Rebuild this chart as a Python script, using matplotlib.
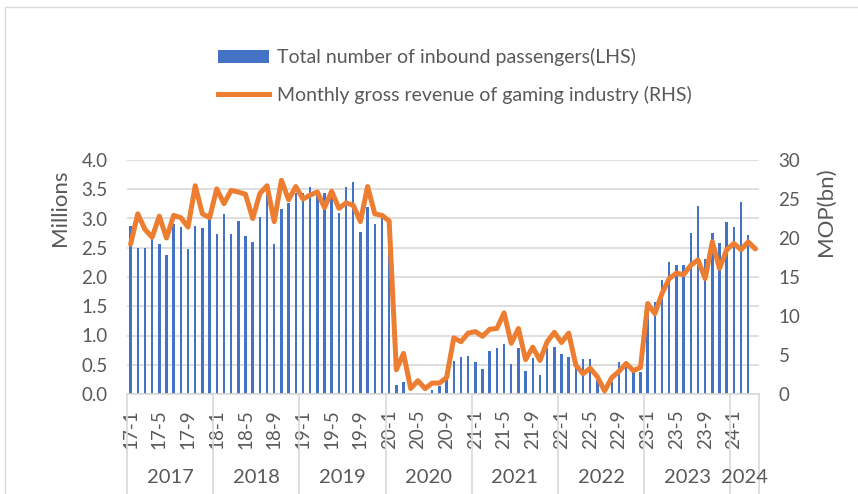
import numpy as np
import matplotlib
matplotlib.use('Agg')
import matplotlib.pyplot as plt
import matplotlib.transforms as mtransforms
from matplotlib.patches import Rectangle, Patch
from matplotlib.lines import Line2D

# monthly data, 2017-1 .. 2024-4
years = [2017, 2018, 2019, 2020, 2021, 2022, 2023, 2024]
months_per_year = [12, 12, 12, 12, 12, 12, 12, 4]

# inbound passengers, millions (LHS); no bar for 2024-4
passengers = [
    2.87, 2.49, 2.50, 2.66, 2.56, 2.37, 2.91, 2.86, 2.48, 2.88, 2.83, 2.99,
    2.74, 3.07, 2.73, 2.96, 2.70, 2.60, 3.03, 3.43, 2.56, 3.16, 3.27, 3.44,
    3.43, 3.54, 3.46, 3.43, 3.45, 3.10, 3.53, 3.62, 2.77, 3.20, 2.91, 3.00,
    2.97, 0.15, 0.21, 0.01, 0.02, 0.02, 0.06, 0.14, 0.25, 0.57, 0.63, 0.65,
    0.55, 0.42, 0.74, 0.78, 0.86, 0.52, 0.78, 0.40, 0.62, 0.32, 0.78, 0.81,
    0.68, 0.64, 0.44, 0.59, 0.59, 0.24, 0.01, 0.20, 0.55, 0.56, 0.42, 0.38,
    1.55, 1.58, 1.95, 2.26, 2.21, 2.21, 2.76, 3.21, 2.30, 2.75, 2.58, 2.94,
    2.86, 3.29, 2.72, np.nan,
]

# gross gaming revenue, MOP bn (RHS)
revenue = [
    19.2, 23.1, 21.1, 20.1, 22.8, 20.0, 22.9, 22.6, 21.4, 26.7, 23.1, 22.6,
    26.3, 24.4, 26.1, 25.9, 25.6, 22.5, 25.7, 26.7, 22.1, 27.4, 24.9, 26.6,
    25.0, 25.5, 25.9, 23.9, 26.0, 23.8, 24.5, 24.2, 22.1, 26.6, 23.1, 22.9,
    22.2, 3.1, 5.2, 0.7, 1.7, 0.7, 1.4, 1.4, 2.1, 7.2, 6.7, 7.8,
    8.0, 7.4, 8.3, 8.4, 10.4, 6.5, 8.4, 4.4, 6.0, 4.3, 6.7, 7.9,
    6.6, 7.8, 3.7, 2.6, 3.3, 2.2, 0.4, 2.1, 2.9, 3.9, 3.0, 3.4,
    11.6, 10.3, 12.9, 14.8, 15.5, 15.3, 16.5, 17.2, 14.8, 19.5, 16.1, 18.5,
    19.3, 18.5, 19.5, 18.6,
]

BLUE = '#4472C4'
ORANGE = '#ED7D31'
GRID = '#D9D9D9'
TEXT = '#595959'

plt.rcParams['font.family'] = ['Lato', 'DejaVu Sans']


def month_labels():
    labels = []
    for y, n in zip(years, months_per_year):
        for m in range(1, n + 1):
            labels.append(f'{y % 100}-{m}')
    return labels


def plot():
    labels = month_labels()
    x = np.arange(len(labels))

    fig = plt.figure(figsize=(8.58, 4.94), dpi=100)
    fig.patches.append(Rectangle((5 / 858, -0.1), 1.2, 1 - 7 / 494 + 0.1,
                                 transform=fig.transFigure, fill=False,
                                 edgecolor=GRID, linewidth=1))

    ax = fig.add_axes([127 / 858, 1 - 394 / 494, (759 - 127) / 858, (394 - 160) / 494])
    ax.bar(x, passengers, width=0.34, color=BLUE, zorder=2)
    ax.set_xlim(-0.5, len(labels) - 0.5)
    ax.set_ylim(0, 4.0)
    ax.set_yticks(np.arange(0, 4.01, 0.5))
    ax.set_yticklabels([f'{v:.1f}' for v in np.arange(0, 4.01, 0.5)])
    ax.yaxis.grid(True, color=GRID, linewidth=1.2, zorder=0)
    ax.set_axisbelow(True)
    for s in ['top', 'right', 'left']:
        ax.spines[s].set_visible(False)
    ax.spines['bottom'].set_color(GRID)
    ax.spines['bottom'].set_linewidth(1.2)
    ax.tick_params(axis='y', length=0, pad=14, labelsize=13.5, labelcolor=TEXT)

    ticks = x[::4]
    ax.set_xticks(ticks)
    ax.set_xticklabels([labels[i] for i in ticks], rotation=90)
    ax.tick_params(axis='x', length=0, pad=11, labelsize=13.5, labelcolor=TEXT)

    ax2 = ax.twinx()
    ax2.plot(x, revenue, color=ORANGE, linewidth=3.6,
             solid_joinstyle='round', solid_capstyle='round', zorder=3)
    ax2.set_ylim(0, 30)
    ax2.set_yticks(np.arange(0, 31, 5))
    for s in ['top', 'right', 'left', 'bottom']:
        ax2.spines[s].set_visible(False)
    ax2.tick_params(axis='y', length=0, pad=14, labelsize=13.5, labelcolor=TEXT)

    # year groups under the month labels
    trans = mtransforms.blended_transform_factory(ax.transData, ax.transAxes)
    edges = np.concatenate([[0], np.cumsum(months_per_year)]) - 0.5
    for e in edges:
        ax.plot([e, e], [0, -100 / 234], transform=trans, color=GRID,
                linewidth=1.2, clip_on=False)
    for y, a, b in zip(years, edges[:-1], edges[1:]):
        ax.text((a + b) / 2, -(477 - 394) / 234, str(y), transform=trans,
                ha='center', va='center', fontsize=14.5, color=TEXT)

    fig.text(60 / 858, 1 - 208 / 494, 'Millions', rotation=90, ha='center',
             va='center', fontsize=16, color=TEXT)
    fig.text(826 / 858, 1 - 212 / 494, 'MOP(bn)', rotation=90, ha='center',
             va='center', fontsize=16, color=TEXT)

    handles = [Patch(facecolor=BLUE, edgecolor='none'),
               Line2D([0], [0], color=ORANGE, linewidth=3.6)]
    names = ['Total number of inbound passengers(LHS)',
             'Monthly gross revenue of gaming industry (RHS)']
    fig.legend(handles, names, loc='upper left',
               bbox_to_anchor=(218 / 858, 1 - 48 / 494), frameon=False,
               fontsize=14, labelcolor=TEXT, borderpad=0, borderaxespad=0,
               handlelength=2.6, handleheight=0.62, handletextpad=0.45,
               labelspacing=1.0)

    fig.savefig('out.png', dpi=100)


if __name__ == '__main__':
    plot()
